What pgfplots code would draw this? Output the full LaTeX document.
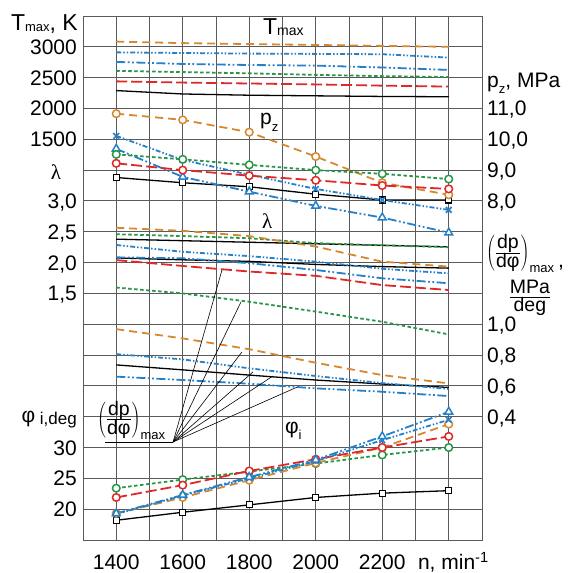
\documentclass[border=0pt]{standalone}
\usepackage{fontspec}
\setmainfont{Liberation Sans}
\newfontfamily\serif{Liberation Serif}
\usepackage{pgfplots}
\pgfplotsset{compat=1.18}
\usepackage{pgfplotstable}

\definecolor{cor}{RGB}{214,136,48}
\definecolor{cbl}{RGB}{36,128,200}
\definecolor{cgr}{RGB}{40,150,70}
\definecolor{crd}{RGB}{225,40,40}
\definecolor{cgrid}{RGB}{90,90,90}

\newcommand\fs{\fontsize{21}{24}\selectfont}
\newcommand\ff{\fontsize{19.5}{22}\selectfont}
\newcommand\sbs[1]{\raisebox{-0.3em}{\fontsize{13}{13}\selectfont #1}}
\newcommand\dpdphi{{\delimiterfactor=800\delimitershortfall=12pt$\left(\frac{\mbox{\ff dp}}{\mbox{\ff dφ}}\right)_{\mbox{\fontsize{13}{13}\selectfont max}}$}}

\pgfplotstableread{
n bk rd gr bt bx or
1400 2290 2440 2610 2755 2910 3085
1600 2235 2420 2590 2722 2900 3060
1800 2215 2405 2570 2705 2890 3045
2000 2205 2390 2545 2695 2885 3030
2200 2195 2370 2525 2665 2880 3015
2400 2190 2355 2510 2625 2825 3000
}\TmaxT

\pgfplotstableread{
n bk rd gr bt bx or
1400 8.76 9.22 9.51 9.69 10.11 10.83
1600 8.59 9.00 9.35 8.78 9.33 10.63
1800 8.46 8.82 9.17 8.30 8.85 10.23
2000 8.22 8.67 9.00 7.84 8.39 9.44
2200 8.03 8.50 8.88 7.46 8.03 8.59
2400 8.03 8.39 8.71 6.97 7.71 8.20
}\PzT

\pgfplotstableread{
n bka bkb gr bt bx or
1400 2.380 2.075 2.460 2.085 2.285 2.565
1600 2.355 2.045 2.430 2.070 2.175 2.515
1800 2.330 2.020 2.395 1.990 2.105 2.430
2000 2.305 1.970 2.315 1.880 2.015 2.260
2200 2.280 1.935 2.280 1.745 1.900 2.015
2400 2.255 1.910 2.250 1.665 1.825 1.935
}\LamT

\pgfplotstableread{
n bk rd gr bt bx or
1400 0.736 1.416 1.238 0.660 0.806 0.968
1600 0.704 1.378 1.200 0.638 0.772 0.908
1800 0.670 1.342 1.146 0.614 0.714 0.838
2000 0.638 1.314 1.082 0.584 0.664 0.750
2200 0.612 1.254 1.016 0.562 0.618 0.670
2400 0.590 1.222 0.934 0.534 0.580 0.616
}\DpT

\pgfplotstableread{
n bk rd gr bt bx or
1400 18.2 21.9 23.4 19.3 19.2 19.3
1600 19.5 23.9 24.8 22.3 22.2 21.9
1800 20.7 26.2 26.1 25.2 25.0 24.7
2000 21.9 28.1 27.4 28.0 27.8 27.5
2200 22.6 30.0 28.8 31.8 31.2 30.0
2400 23.0 31.8 30.0 35.8 34.5 33.8
}\PhiT

\pgfplotsset{
  sbk/.style={black, line width=1.3pt, solid},
  srd/.style={crd, line width=1.8pt, dash pattern=on 11pt off 4pt},
  sgr/.style={cgr, line width=1.8pt, dash pattern=on 3.5pt off 2.5pt},
  sbt/.style={cbl, line width=1.8pt, dash pattern=on 9pt off 2.5pt on 1.8pt off 2.5pt on 1.8pt off 2.5pt},
  sbx/.style={cbl, line width=1.8pt, dash pattern=on 5pt off 2pt on 1.5pt off 2pt on 1.5pt off 2pt},
  sor/.style={cor, line width=1.8pt, dash pattern=on 8pt off 5pt},
  mbk/.style={mark=square*, mark size=3pt, mark options={solid, fill=white, draw=black, line width=1.2pt}},
  mrd/.style={mark=*, mark size=3.8pt, mark options={solid, fill=white, draw=crd, line width=1.5pt}},
  mgr/.style={mark=*, mark size=3.8pt, mark options={solid, fill=white, draw=cgr, line width=1.5pt}},
  mor/.style={mark=*, mark size=3.8pt, mark options={solid, fill=white, draw=cor, line width=1.5pt}},
  mbt/.style={mark=triangle*, mark size=4.5pt, mark options={solid, fill=white, draw=cbl, line width=1.5pt}},
  mbx/.style={mark=x, mark size=4pt, mark options={solid, draw=cbl, line width=1.6pt}},
}
\tikzset{
  ll/.style={anchor=base east, xshift=-6pt, yshift=-7.5pt},
  rl/.style={anchor=base west, xshift=5pt, yshift=-7.5pt},
  xl/.style={anchor=base, yshift=-30pt},
  pl/.style={black, line width=0.6pt},
}

\begin{document}
\begin{tikzpicture}[every node/.style={font=\fs, inner sep=0pt}]
\path[use as bounding box] (-83pt,-33pt) rectangle (504pt,540pt);
\begin{axis}[
  at={(0,0)}, anchor=south west,
  scale only axis, width=399pt, height=524pt,
  xmin=1300, xmax=2500, ymin=0, ymax=17,
  xtick={1300,1400,...,2500}, ytick={0,1,...,17},
  xticklabels={}, yticklabels={},
  major tick length=0pt,
  grid=major,
  grid style={cgrid, line width=0.9pt},
  axis line style={cgrid, line width=0.9pt},
  clip=false,
]
% T_max
\addplot[sbk] table[x=n, y expr={13+(\thisrow{bk}-1500)/500}] {\TmaxT};
\addplot[srd] table[x=n, y expr={13+(\thisrow{rd}-1500)/500}] {\TmaxT};
\addplot[sgr] table[x=n, y expr={13+(\thisrow{gr}-1500)/500}] {\TmaxT};
\addplot[sbt] table[x=n, y expr={13+(\thisrow{bt}-1500)/500}] {\TmaxT};
\addplot[sbx] table[x=n, y expr={13+(\thisrow{bx}-1500)/500}] {\TmaxT};
\addplot[sor] table[x=n, y expr={13+(\thisrow{or}-1500)/500}] {\TmaxT};
% lambda
\addplot[sbk] table[x=n, y expr={5+2*\thisrow{bka}}] {\LamT};
\addplot[sbk] table[x=n, y expr={5+2*\thisrow{bkb}}] {\LamT};
\addplot[sgr] table[x=n, y expr={5+2*\thisrow{gr}}] {\LamT};
\addplot[sbt] table[x=n, y expr={5+2*\thisrow{bt}}] {\LamT};
\addplot[sbx] table[x=n, y expr={5+2*\thisrow{bx}}] {\LamT};
\addplot[sor] table[x=n, y expr={5+2*\thisrow{or}}] {\LamT};
% dp/dphi
\addplot[sbk] table[x=n, y expr={2+5*\thisrow{bk}}] {\DpT};
\addplot[srd] table[x=n, y expr={2+5*\thisrow{rd}}] {\DpT};
\addplot[sgr] table[x=n, y expr={2+5*\thisrow{gr}}] {\DpT};
\addplot[sbt] table[x=n, y expr={2+5*\thisrow{bt}}] {\DpT};
\addplot[sbx] table[x=n, y expr={2+5*\thisrow{bx}}] {\DpT};
\addplot[sor] table[x=n, y expr={2+5*\thisrow{or}}] {\DpT};
% p_z
\addplot[sbk, mbk] table[x=n, y expr={\thisrow{bk}+3}] {\PzT};
\addplot[sor, mor] table[x=n, y expr={\thisrow{or}+3}] {\PzT};
\addplot[sbt, mbt] table[x=n, y expr={\thisrow{bt}+3}] {\PzT};
\addplot[sbx, mbx] table[x=n, y expr={\thisrow{bx}+3}] {\PzT};
\addplot[sgr, mgr] table[x=n, y expr={\thisrow{gr}+3}] {\PzT};
\addplot[srd, mrd] table[x=n, y expr={\thisrow{rd}+3}] {\PzT};
% phi_i
\addplot[sbk, mbk] table[x=n, y expr={(\thisrow{bk}-15)/5}] {\PhiT};
\addplot[sgr, mgr] table[x=n, y expr={(\thisrow{gr}-15)/5}] {\PhiT};
\addplot[sor, mor] table[x=n, y expr={(\thisrow{or}-15)/5}] {\PhiT};
\addplot[srd, mrd] table[x=n, y expr={(\thisrow{rd}-15)/5}] {\PhiT};
\addplot[sbx, mbx] table[x=n, y expr={(\thisrow{bx}-15)/5}] {\PhiT};
\addplot[sbt, mbt] table[x=n, y expr={(\thisrow{bt}-15)/5}] {\PhiT};

% pointer lines
\draw[pl] (axis cs:1366,3.18) -- (axis cs:1571,3.18);
\draw[pl] (axis cs:1571,3.18) -- (axis cs:1718,8.76);
\draw[pl] (axis cs:1571,3.18) -- (axis cs:1775,7.72);
\draw[pl] (axis cs:1571,3.18) -- (axis cs:1778,6.10);
\draw[pl] (axis cs:1571,3.18) -- (axis cs:1811,5.45);
\draw[pl] (axis cs:1571,3.18) -- (axis cs:1871,5.32);
\draw[pl] (axis cs:1571,3.18) -- (axis cs:1944,4.96);

% left labels
\node[anchor=base east, xshift=-5pt] at (axis cs:1300,16.52) {{\fontsize{23}{24}\selectfont T}\raisebox{-1pt}{\fontsize{13}{13}\selectfont max}{\fontsize{23}{24}\selectfont , K}};
\node[ll] at (axis cs:1300,16) {3000};
\node[ll] at (axis cs:1300,15) {2500};
\node[ll] at (axis cs:1300,14) {2000};
\node[ll] at (axis cs:1300,13) {1500};
\node[ll] at (axis cs:1300,11) {3,0};
\node[ll] at (axis cs:1300,10) {2,5};
\node[ll] at (axis cs:1300,9) {2,0};
\node[ll] at (axis cs:1300,8) {1,5};
\node[ll] at (axis cs:1300,3) {30};
\node[ll] at (axis cs:1300,2) {25};
\node[ll] at (axis cs:1300,1) {20};
\node[anchor=base] at (axis cs:1219,11.68) {\serif λ};
\node[anchor=base east, xshift=-6pt] at (axis cs:1300,3.80) {φ{\fontsize{17}{17}\selectfont\raisebox{-2pt}{ i,deg}}};
% right labels
\node[anchor=base west, xshift=5pt] at (axis cs:2500,14.69) {p\sbs{z}, MPa};
\node[rl] at (axis cs:2500,14) {11,0};
\node[rl] at (axis cs:2500,13) {10,0};
\node[rl] at (axis cs:2500,12) {9,0};
\node[rl] at (axis cs:2500,11) {8,0};
\node[rl] at (axis cs:2500,7) {1,0};
\node[rl] at (axis cs:2500,6) {0,8};
\node[rl] at (axis cs:2500,5) {0,6};
\node[rl] at (axis cs:2500,4) {0,4};
\node[anchor=west, xshift=4pt] at (axis cs:2500,9.3) {\dpdphi\,\raisebox{-9pt}{,}};
\node at (axis cs:2644,7.85) {$\frac{\mbox{\ff MPa}}{\mbox{\ff deg}}$};
% inner labels
\node[anchor=base west] at (axis cs:1841,16.39) {{\fontsize{23}{24}\selectfont T}\raisebox{-1pt}{\fontsize{14}{14}\selectfont max}};
\node[anchor=base west] at (axis cs:1832,13.47) {p\sbs{z}};
\node[anchor=base west] at (axis cs:1838,10.12) {\serif λ};
\node[anchor=base west] at (axis cs:1907,3.47) {φ\sbs{i}};
\node[anchor=west] at (axis cs:1342,3.89) {\dpdphi};
% x labels
\node[xl] at (axis cs:1400,0) {1400};
\node[xl] at (axis cs:1600,0) {1600};
\node[xl] at (axis cs:1800,0) {1800};
\node[xl] at (axis cs:2000,0) {2000};
\node[xl] at (axis cs:2200,0) {2200};
\node[anchor=base west, yshift=-30pt] at (axis cs:2307,0) {n, min\textsuperscript{-1}};
\end{axis}
\end{tikzpicture}
\end{document}
